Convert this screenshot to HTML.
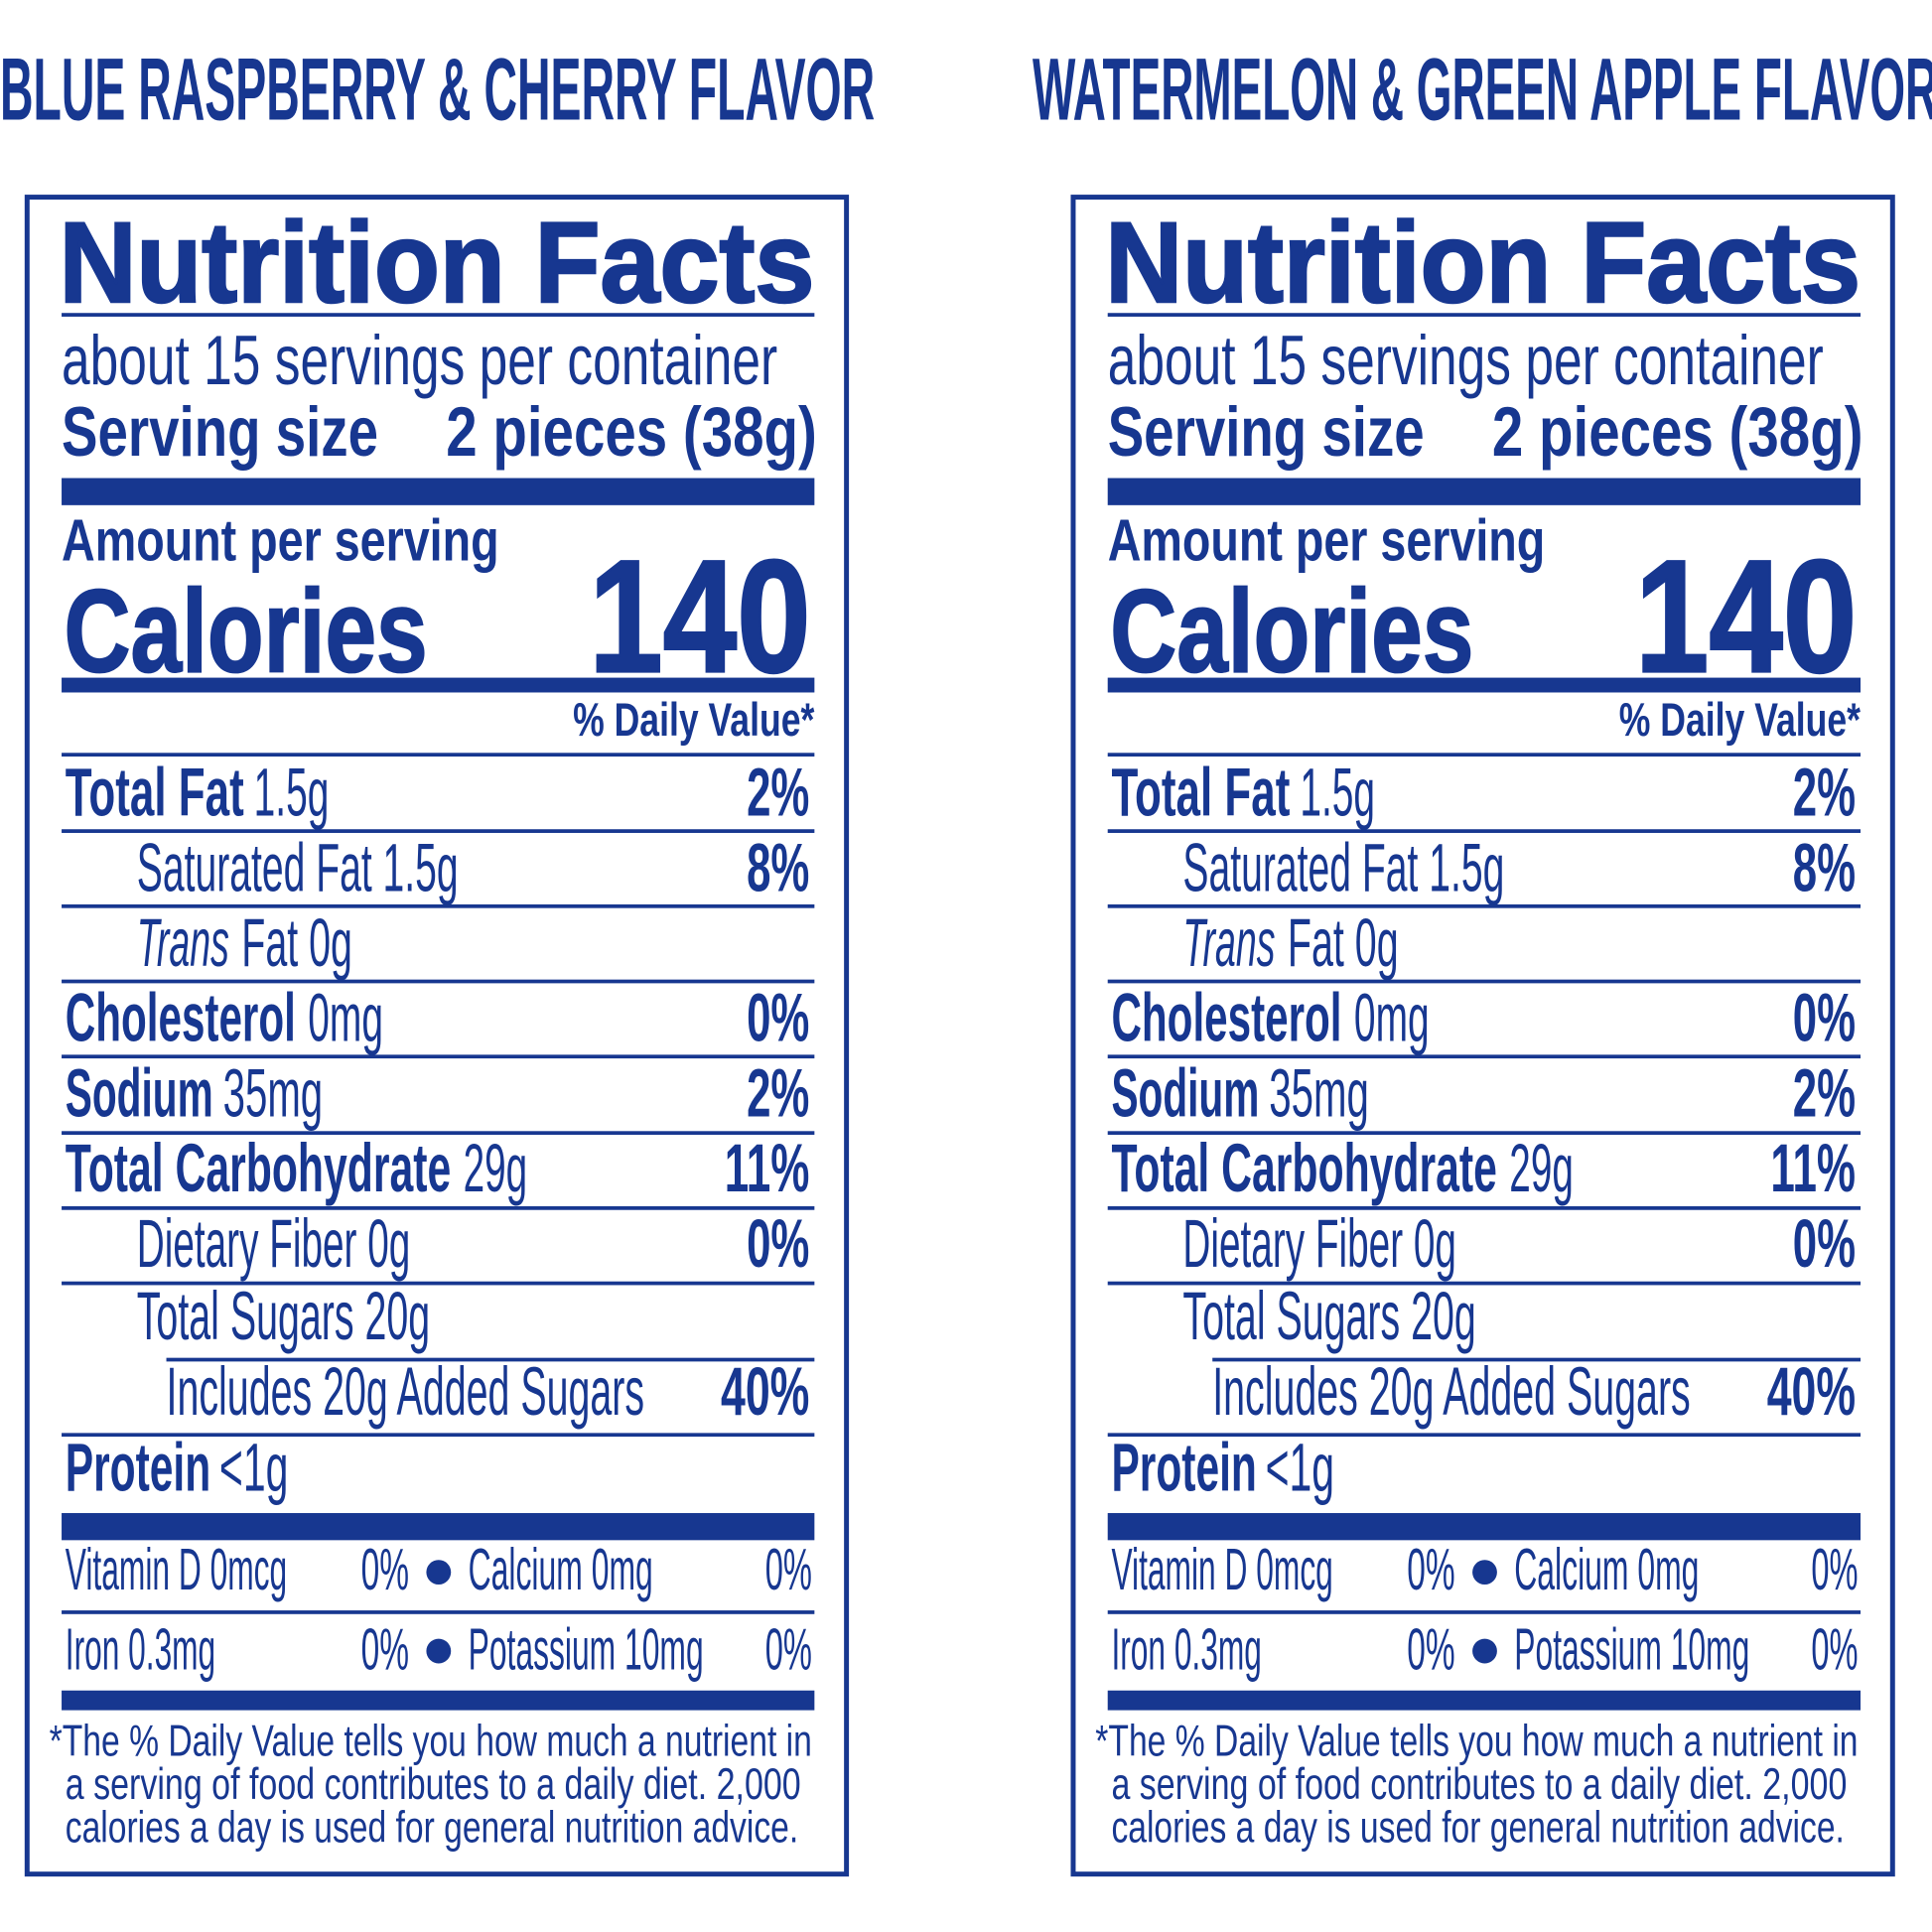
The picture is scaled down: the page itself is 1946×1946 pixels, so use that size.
<!DOCTYPE html>
<html><head><meta charset="utf-8"><style>
html,body{margin:0;padding:0;background:#fff;}
svg{display:block;}
text{font-family:"Liberation Sans",sans-serif;fill:#173790;}
.b{font-weight:bold;}
</style></head><body>
<svg width="1946" height="1946" viewBox="0 0 1568 1568" xmlns="http://www.w3.org/2000/svg">
<rect width="1568" height="1568" fill="#fff"/>
<text class="b" x="0" y="97" font-size="72" textLength="710" lengthAdjust="spacingAndGlyphs">BLUE RASPBERRY &amp; CHERRY FLAVOR</text>
<text class="b" x="838" y="97" font-size="72" textLength="735" lengthAdjust="spacingAndGlyphs">WATERMELON &amp; GREEN APPLE FLAVOR</text>

<g>
<rect x="22" y="160" width="665" height="1361" fill="none" stroke="#173790" stroke-width="4"/>
<text class="b" x="48" y="245" font-size="93" textLength="613" lengthAdjust="spacingAndGlyphs" stroke="#173790" stroke-width="2">Nutrition Facts</text>
<rect x="50" y="254" width="611" height="3" fill="#173790"/>
<text x="50" y="312" font-size="57" textLength="581" lengthAdjust="spacingAndGlyphs">about 15 servings per container</text>
<text class="b" x="50" y="370" font-size="57" textLength="257" lengthAdjust="spacingAndGlyphs">Serving size</text>
<text class="b" x="362" y="370" font-size="57" textLength="301" lengthAdjust="spacingAndGlyphs">2 pieces (38g)</text>
<rect x="50" y="388" width="611" height="22" fill="#173790"/>
<text class="b" x="50" y="455" font-size="48" textLength="355" lengthAdjust="spacingAndGlyphs">Amount per serving</text>
<text class="b" x="52" y="545" font-size="96" textLength="295" lengthAdjust="spacingAndGlyphs" stroke="#173790" stroke-width="1.5">Calories</text>
<text class="b" x="478" y="545" font-size="130" textLength="180" lengthAdjust="spacingAndGlyphs" stroke="#173790" stroke-width="2">140</text>
<rect x="50" y="550" width="611" height="12" fill="#173790"/>
<text class="b" x="465" y="597" font-size="38" textLength="196" lengthAdjust="spacingAndGlyphs">% Daily Value*</text>
<g fill="#173790">
<rect x="50" y="611" width="611" height="3"/><rect x="50" y="673" width="611" height="3"/>
<rect x="50" y="734" width="611" height="3"/><rect x="50" y="795" width="611" height="3"/>
<rect x="50" y="856" width="611" height="3"/><rect x="50" y="918" width="611" height="3"/>
<rect x="50" y="979" width="611" height="3"/><rect x="50" y="1040" width="611" height="3"/>
<rect x="135" y="1102" width="526" height="3"/><rect x="50" y="1163" width="611" height="3"/>
<rect x="50" y="1228" width="611" height="22"/><rect x="50" y="1307" width="611" height="3"/>
<rect x="50" y="1372" width="611" height="16"/>
<circle cx="356" cy="1276" r="10"/><circle cx="356" cy="1340" r="10"/>
</g>
<g font-size="55">
<text class="b" x="53" y="662" textLength="145" lengthAdjust="spacingAndGlyphs">Total Fat</text>
<text x="206" y="662" textLength="61" lengthAdjust="spacingAndGlyphs">1.5g</text>
<text class="b" x="606" y="662" textLength="51" lengthAdjust="spacingAndGlyphs">2%</text>
<text x="111" y="723" textLength="261" lengthAdjust="spacingAndGlyphs">Saturated Fat 1.5g</text>
<text class="b" x="606" y="723" textLength="51" lengthAdjust="spacingAndGlyphs">8%</text>
<text x="111" y="784" font-style="italic" textLength="75" lengthAdjust="spacingAndGlyphs">Trans</text>
<text x="196" y="784" textLength="90" lengthAdjust="spacingAndGlyphs">Fat 0g</text>
<text class="b" x="53" y="845" textLength="187" lengthAdjust="spacingAndGlyphs">Cholesterol</text>
<text x="250" y="845" textLength="61" lengthAdjust="spacingAndGlyphs">0mg</text>
<text class="b" x="606" y="845" textLength="51" lengthAdjust="spacingAndGlyphs">0%</text>
<text class="b" x="53" y="906" textLength="120" lengthAdjust="spacingAndGlyphs">Sodium</text>
<text x="181" y="906" textLength="81" lengthAdjust="spacingAndGlyphs">35mg</text>
<text class="b" x="606" y="906" textLength="51" lengthAdjust="spacingAndGlyphs">2%</text>
<text class="b" x="53" y="967" textLength="313" lengthAdjust="spacingAndGlyphs">Total Carbohydrate</text>
<text x="376" y="967" textLength="52" lengthAdjust="spacingAndGlyphs">29g</text>
<text class="b" x="588" y="967" textLength="69" lengthAdjust="spacingAndGlyphs">11%</text>
<text x="111" y="1028" textLength="222" lengthAdjust="spacingAndGlyphs">Dietary Fiber 0g</text>
<text class="b" x="606" y="1028" textLength="51" lengthAdjust="spacingAndGlyphs">0%</text>
<text x="111" y="1087" textLength="238" lengthAdjust="spacingAndGlyphs">Total Sugars 20g</text>
<text x="135" y="1148" textLength="388" lengthAdjust="spacingAndGlyphs">Includes 20g Added Sugars</text>
<text class="b" x="585" y="1148" textLength="72" lengthAdjust="spacingAndGlyphs">40%</text>
<text class="b" x="53" y="1210" textLength="118" lengthAdjust="spacingAndGlyphs">Protein</text>
<text x="178" y="1210" textLength="56" lengthAdjust="spacingAndGlyphs">&lt;1g</text>
</g>
<g font-size="48">
<text x="53" y="1290" textLength="180" lengthAdjust="spacingAndGlyphs">Vitamin D 0mcg</text>
<text x="293" y="1290" textLength="39" lengthAdjust="spacingAndGlyphs">0%</text>
<text x="380" y="1290" textLength="150" lengthAdjust="spacingAndGlyphs">Calcium 0mg</text>
<text x="621" y="1290" textLength="38" lengthAdjust="spacingAndGlyphs">0%</text>
<text x="53" y="1355" textLength="122" lengthAdjust="spacingAndGlyphs">Iron 0.3mg</text>
<text x="293" y="1355" textLength="39" lengthAdjust="spacingAndGlyphs">0%</text>
<text x="380" y="1355" textLength="191" lengthAdjust="spacingAndGlyphs">Potassium 10mg</text>
<text x="621" y="1355" textLength="38" lengthAdjust="spacingAndGlyphs">0%</text>
</g>
<g font-size="36">
<text x="40" y="1425" textLength="619" lengthAdjust="spacingAndGlyphs">*The % Daily Value tells you how much a nutrient in</text>
<text x="53" y="1460" textLength="597" lengthAdjust="spacingAndGlyphs">a serving of food contributes to a daily diet. 2,000</text>
<text x="53" y="1495" textLength="595" lengthAdjust="spacingAndGlyphs">calories a day is used for general nutrition advice.</text>
</g>
</g>

<g transform="translate(849,0)">
<rect x="22" y="160" width="665" height="1361" fill="none" stroke="#173790" stroke-width="4"/>
<text class="b" x="48" y="245" font-size="93" textLength="613" lengthAdjust="spacingAndGlyphs" stroke="#173790" stroke-width="2">Nutrition Facts</text>
<rect x="50" y="254" width="611" height="3" fill="#173790"/>
<text x="50" y="312" font-size="57" textLength="581" lengthAdjust="spacingAndGlyphs">about 15 servings per container</text>
<text class="b" x="50" y="370" font-size="57" textLength="257" lengthAdjust="spacingAndGlyphs">Serving size</text>
<text class="b" x="362" y="370" font-size="57" textLength="301" lengthAdjust="spacingAndGlyphs">2 pieces (38g)</text>
<rect x="50" y="388" width="611" height="22" fill="#173790"/>
<text class="b" x="50" y="455" font-size="48" textLength="355" lengthAdjust="spacingAndGlyphs">Amount per serving</text>
<text class="b" x="52" y="545" font-size="96" textLength="295" lengthAdjust="spacingAndGlyphs" stroke="#173790" stroke-width="1.5">Calories</text>
<text class="b" x="478" y="545" font-size="130" textLength="180" lengthAdjust="spacingAndGlyphs" stroke="#173790" stroke-width="2">140</text>
<rect x="50" y="550" width="611" height="12" fill="#173790"/>
<text class="b" x="465" y="597" font-size="38" textLength="196" lengthAdjust="spacingAndGlyphs">% Daily Value*</text>
<g fill="#173790">
<rect x="50" y="611" width="611" height="3"/><rect x="50" y="673" width="611" height="3"/>
<rect x="50" y="734" width="611" height="3"/><rect x="50" y="795" width="611" height="3"/>
<rect x="50" y="856" width="611" height="3"/><rect x="50" y="918" width="611" height="3"/>
<rect x="50" y="979" width="611" height="3"/><rect x="50" y="1040" width="611" height="3"/>
<rect x="135" y="1102" width="526" height="3"/><rect x="50" y="1163" width="611" height="3"/>
<rect x="50" y="1228" width="611" height="22"/><rect x="50" y="1307" width="611" height="3"/>
<rect x="50" y="1372" width="611" height="16"/>
<circle cx="356" cy="1276" r="10"/><circle cx="356" cy="1340" r="10"/>
</g>
<g font-size="55">
<text class="b" x="53" y="662" textLength="145" lengthAdjust="spacingAndGlyphs">Total Fat</text>
<text x="206" y="662" textLength="61" lengthAdjust="spacingAndGlyphs">1.5g</text>
<text class="b" x="606" y="662" textLength="51" lengthAdjust="spacingAndGlyphs">2%</text>
<text x="111" y="723" textLength="261" lengthAdjust="spacingAndGlyphs">Saturated Fat 1.5g</text>
<text class="b" x="606" y="723" textLength="51" lengthAdjust="spacingAndGlyphs">8%</text>
<text x="111" y="784" font-style="italic" textLength="75" lengthAdjust="spacingAndGlyphs">Trans</text>
<text x="196" y="784" textLength="90" lengthAdjust="spacingAndGlyphs">Fat 0g</text>
<text class="b" x="53" y="845" textLength="187" lengthAdjust="spacingAndGlyphs">Cholesterol</text>
<text x="250" y="845" textLength="61" lengthAdjust="spacingAndGlyphs">0mg</text>
<text class="b" x="606" y="845" textLength="51" lengthAdjust="spacingAndGlyphs">0%</text>
<text class="b" x="53" y="906" textLength="120" lengthAdjust="spacingAndGlyphs">Sodium</text>
<text x="181" y="906" textLength="81" lengthAdjust="spacingAndGlyphs">35mg</text>
<text class="b" x="606" y="906" textLength="51" lengthAdjust="spacingAndGlyphs">2%</text>
<text class="b" x="53" y="967" textLength="313" lengthAdjust="spacingAndGlyphs">Total Carbohydrate</text>
<text x="376" y="967" textLength="52" lengthAdjust="spacingAndGlyphs">29g</text>
<text class="b" x="588" y="967" textLength="69" lengthAdjust="spacingAndGlyphs">11%</text>
<text x="111" y="1028" textLength="222" lengthAdjust="spacingAndGlyphs">Dietary Fiber 0g</text>
<text class="b" x="606" y="1028" textLength="51" lengthAdjust="spacingAndGlyphs">0%</text>
<text x="111" y="1087" textLength="238" lengthAdjust="spacingAndGlyphs">Total Sugars 20g</text>
<text x="135" y="1148" textLength="388" lengthAdjust="spacingAndGlyphs">Includes 20g Added Sugars</text>
<text class="b" x="585" y="1148" textLength="72" lengthAdjust="spacingAndGlyphs">40%</text>
<text class="b" x="53" y="1210" textLength="118" lengthAdjust="spacingAndGlyphs">Protein</text>
<text x="178" y="1210" textLength="56" lengthAdjust="spacingAndGlyphs">&lt;1g</text>
</g>
<g font-size="48">
<text x="53" y="1290" textLength="180" lengthAdjust="spacingAndGlyphs">Vitamin D 0mcg</text>
<text x="293" y="1290" textLength="39" lengthAdjust="spacingAndGlyphs">0%</text>
<text x="380" y="1290" textLength="150" lengthAdjust="spacingAndGlyphs">Calcium 0mg</text>
<text x="621" y="1290" textLength="38" lengthAdjust="spacingAndGlyphs">0%</text>
<text x="53" y="1355" textLength="122" lengthAdjust="spacingAndGlyphs">Iron 0.3mg</text>
<text x="293" y="1355" textLength="39" lengthAdjust="spacingAndGlyphs">0%</text>
<text x="380" y="1355" textLength="191" lengthAdjust="spacingAndGlyphs">Potassium 10mg</text>
<text x="621" y="1355" textLength="38" lengthAdjust="spacingAndGlyphs">0%</text>
</g>
<g font-size="36">
<text x="40" y="1425" textLength="619" lengthAdjust="spacingAndGlyphs">*The % Daily Value tells you how much a nutrient in</text>
<text x="53" y="1460" textLength="597" lengthAdjust="spacingAndGlyphs">a serving of food contributes to a daily diet. 2,000</text>
<text x="53" y="1495" textLength="595" lengthAdjust="spacingAndGlyphs">calories a day is used for general nutrition advice.</text>
</g>
</g>
</svg>
</body></html>
